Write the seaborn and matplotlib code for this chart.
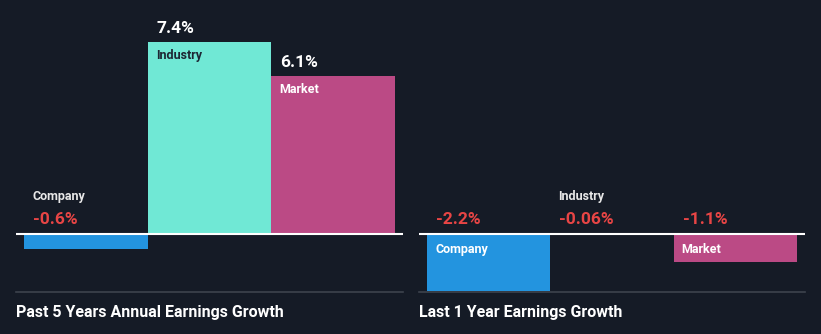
import matplotlib
matplotlib.use("Agg")
import matplotlib.pyplot as plt
import seaborn as sns
import pandas as pd

# ---- data ----
categories = ["Company", "Industry", "Market"]
past5_values = [-0.6, 7.4, 6.1]
past5_labels = ["-0.6%", "7.4%", "6.1%"]
last1_values = [-2.2, -0.06, -1.1]
last1_labels = ["-2.2%", "-0.06%", "-1.1%"]
panel_titles = ["Past 5 Years Annual Earnings Growth", "Last 1 Year Earnings Growth"]

# ---- style ----
BG = "#151b26"
bar_colors = {"Company": "#2394df", "Industry": "#70e8d5", "Market": "#bb4a85"}
name_colors = {"Company": "#ffffff", "Industry": "#1d2634", "Market": "#ffffff"}
RED = "#e84545"
SEP = "#3d434d"

sns.set_theme(style="dark")
plt.rcParams["font.family"] = ["Roboto", "DejaVu Sans"]

fig = plt.figure(figsize=(8.21, 3.34), dpi=100, facecolor=BG)

W, H = 821, 334
ax_bottom_px = 292
ylim = (-2.25, 9.02)

panels = [
    (16, 387, past5_values, past5_labels, panel_titles[0]),
    (419, 386, last1_values, last1_labels, panel_titles[1]),
]

for left_px, width_px, values, labels, title in panels:
    ax = fig.add_axes([left_px / W, (H - ax_bottom_px) / H, width_px / W, ax_bottom_px / H])
    ax.set_facecolor(BG)
    df = pd.DataFrame({"cat": categories, "val": values})
    sns.barplot(data=df, x="cat", y="val", hue="cat", palette=bar_colors,
                width=1.0, legend=False, ax=ax, saturation=1.0, edgecolor="none")
    ax.set_xlim(-0.565, 2.565)
    ax.set_ylim(*ylim)
    ax.axhline(0, color="white", lw=1.5, zorder=5)
    for s in ["top", "left", "right"]:
        ax.spines[s].set_visible(False)
    ax.spines["bottom"].set_visible(True)
    ax.spines["bottom"].set_color(SEP)
    ax.spines["bottom"].set_linewidth(1.2)
    ax.set_xticks([])
    ax.set_yticks([])
    ax.set_xlabel("")
    ax.set_ylabel("")
    ax.grid(False)

    px_per_unit = ax_bottom_px / (ylim[1] - ylim[0])
    for i, (cat, v, lab) in enumerate(zip(categories, values, labels)):
        x0 = i - 0.5
        if v >= 0:
            ax.annotate(lab, xy=(x0, v), xytext=(9, 13), textcoords="offset pixels",
                        ha="left", va="center", color="white", fontsize=12.5,
                        fontweight="bold", zorder=6)
            ax.annotate(cat, xy=(x0, v), xytext=(8, -14), textcoords="offset pixels",
                        ha="left", va="center", color=name_colors[cat], fontsize=9,
                        fontweight="bold", zorder=6)
        else:
            ax.annotate(lab, xy=(x0, 0), xytext=(9, 14), textcoords="offset pixels",
                        ha="left", va="center", color=RED, fontsize=12.5,
                        fontweight="bold", zorder=6)
            if abs(v) * px_per_unit >= 24:
                ax.annotate(cat, xy=(x0, 0), xytext=(8, -16), textcoords="offset pixels",
                            ha="left", va="center", color="white", fontsize=9,
                            fontweight="bold", zorder=6)
            else:
                ax.annotate(cat, xy=(x0, 0), xytext=(8, 37), textcoords="offset pixels",
                            ha="left", va="center", color="#e8e8e8", fontsize=9,
                            fontweight="bold", zorder=6)

    fig.text(left_px / W, (H - 312) / H, title, ha="left", va="center",
             color="white", fontsize=11.5, fontweight="bold")

fig.savefig("out.png", dpi=100, facecolor=BG)
